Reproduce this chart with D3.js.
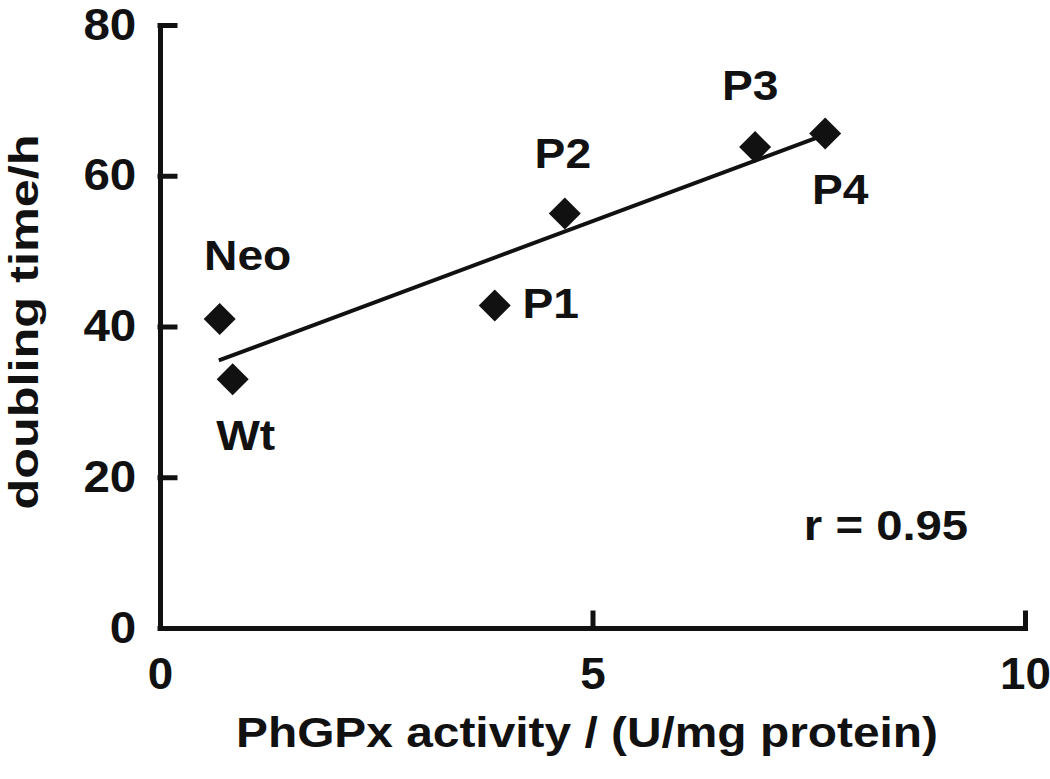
<!DOCTYPE html>
<html>
<head>
<meta charset="utf-8">
<script src="https://cdn.jsdelivr.net/npm/d3@7/dist/d3.min.js"></script>
<style>
  html, body { margin: 0; padding: 0; background: #fff; }
  svg text { font-family: "Liberation Sans", Arial, Helvetica, sans-serif; font-weight: bold; fill: #111; }
</style>
</head>
<body>
<svg id="chart" width="1050" height="779"></svg>
<script>
// ---- data ----
const sampleNames = ["Neo", "Wt", "P1", "P2", "P3", "P4"];
const activity    = [0.69, 0.84, 3.87, 4.68, 6.88, 7.69];   // PhGPx activity (U/mg protein)
const doublingTime = [41.0, 33.0, 42.8, 55.0, 63.8, 65.6];   // doubling time (h)
const fitX = [0.68, 7.58];
const fitY = [35.5, 65.0];
const xTicks = [0, 5, 10];
const yTicks = [0, 20, 40, 60, 80];
const rLabel = "r = 0.95";
const xTitle = "PhGPx activity / (U/mg protein)";
const yTitle = "doubling time/h";

// ---- layout ----
const svg = d3.select("#chart");
const x = d3.scaleLinear().domain([0, 10]).range([160, 1025]);
const y = d3.scaleLinear().domain([0, 80]).range([628, 25]);
const SX = 1.1;   // horizontal stretch of the lettering

const yAxis = svg.append("g")
  .attr("transform", `translate(${x(0)},0)`)
  .call(d3.axisLeft(y).tickValues(yTicks).tickSize(-15).tickSizeOuter(0).tickPadding(22).tickFormat(d3.format("d")));
const xAxis = svg.append("g")
  .attr("transform", `translate(0,${y(0)})`)
  .call(d3.axisBottom(x).tickValues(xTicks).tickSize(-15).tickSizeOuter(0).tickPadding(30).tickFormat(d3.format("d")));

[yAxis, xAxis].forEach(g => {
  g.selectAll("path.domain, line").attr("stroke", "#111").attr("stroke-width", 5).attr("stroke-linecap", "square");
  g.selectAll("text").style("font-size", "44px").style("fill", "#111");
});
yAxis.selectAll(".tick text").attr("transform", `scale(1.08,1)`);
xAxis.selectAll(".tick text").attr("transform", `scale(1.04,1)`);

// regression line
svg.append("line")
  .attr("x1", x(fitX[0])).attr("y1", y(fitY[0]))
  .attr("x2", x(fitX[1])).attr("y2", y(fitY[1]))
  .attr("stroke", "#111").attr("stroke-width", 4);

// points
const pts = sampleNames.map((n, i) => ({ name: n, x: activity[i], y: doublingTime[i] }));
const diamond = d3.symbol().type(d3.symbolSquare).size(512);
svg.selectAll("path.pt").data(pts).enter().append("path")
  .attr("class", "pt")
  .attr("d", diamond)
  .attr("transform", d => `translate(${x(d.x)},${y(d.y)}) rotate(45)`)
  .attr("fill", "#111");

// point labels (offsets in pixels)
const labelOffset = { Neo: [28, -64], Wt: [13, 56], P1: [56, -3], P2: [-2, -61], P3: [-5, -62], P4: [15, 55] };
svg.selectAll("text.lbl").data(pts).enter().append("text")
  .attr("class", "lbl")
  .attr("transform", d => `translate(${x(d.x) + labelOffset[d.name][0]},${y(d.y) + labelOffset[d.name][1]}) scale(${SX},1)`)
  .attr("text-anchor", "middle")
  .attr("dy", "0.36em")
  .style("font-size", "42px")
  .text(d => d.name);

// r annotation
svg.append("text")
  .attr("transform", `translate(886,540) scale(${SX},1)`)
  .attr("text-anchor", "middle")
  .style("font-size", "43px")
  .text(rLabel);

// axis titles
svg.append("text")
  .attr("transform", `translate(587,747) scale(1.14,1)`)
  .attr("text-anchor", "middle")
  .style("font-size", "42px")
  .text(xTitle);

svg.append("text")
  .attr("transform", `translate(38,322) rotate(-90) scale(1.23,1)`)
  .attr("text-anchor", "middle")
  .style("font-size", "41px")
  .text(yTitle);
</script>
</body>
</html>
